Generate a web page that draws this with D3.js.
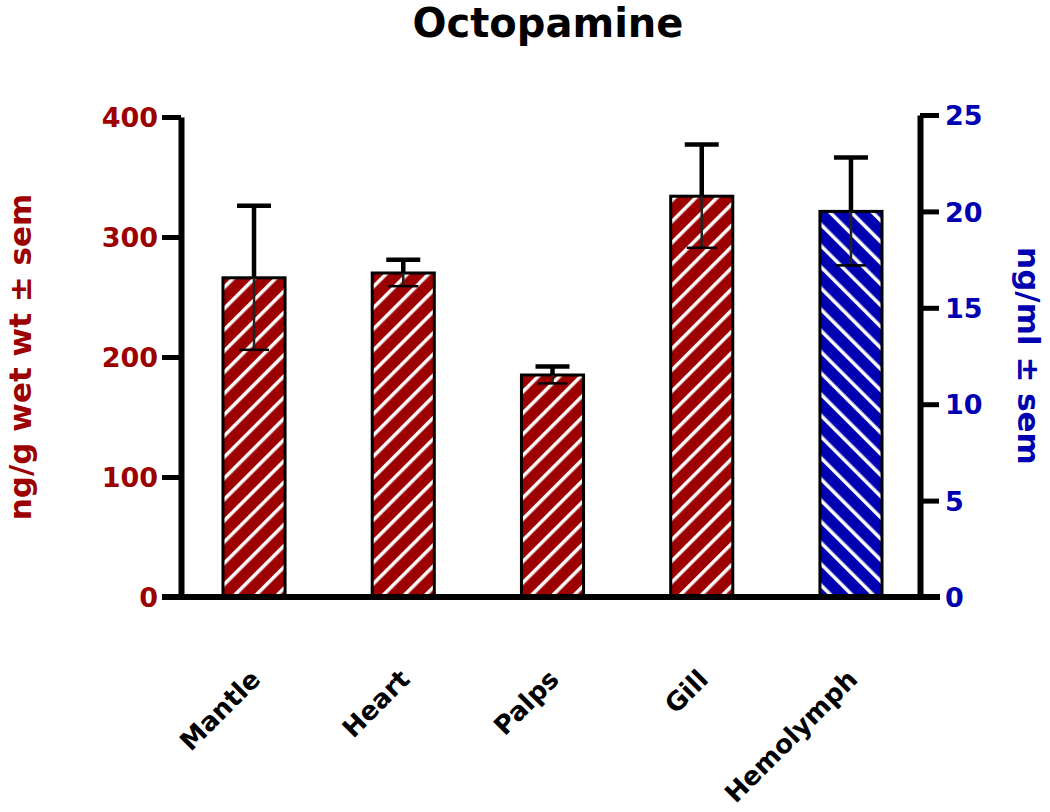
<!DOCTYPE html>
<html>
<head>
<meta charset="utf-8">
<script src="https://cdn.jsdelivr.net/npm/d3@7"></script>
<style>
  html, body { margin: 0; padding: 0; background: #ffffff; }
  svg { display: block; }
  text { font-family: "DejaVu Sans", "Liberation Sans", Arial, sans-serif; font-weight: bold; }
</style>
</head>
<body>
<svg id="chart" width="1050" height="812"></svg>
<script>
// ---- data ----
const categories = ["Mantle", "Heart", "Palps", "Gill", "Hemolymph"];
const tissueValues = [266, 270, 185, 334, null];      // ng/g wet wt (left axis)
const tissueSem    = [60, 11, 7, 43, null];
const hemoValues   = [null, null, null, null, 20];    // ng/ml (right axis)
const hemoSem      = [null, null, null, null, 2.8];
const leftTicks  = [0, 100, 200, 300, 400];
const rightTicks = [0, 5, 10, 15, 20, 25];
const title = "Octopamine";
const leftTitle = "ng/g wet wt \u00b1 sem";
const rightTitle = "ng/ml \u00b1 sem";

const RED = "#9c0000", BLUE = "#0000b0";

const svg = d3.select("#chart");

// patterns
const defs = svg.append("defs");
function stripe(id, color, angle) {
  const p = defs.append("pattern")
    .attr("id", id).attr("patternUnits", "userSpaceOnUse")
    .attr("width", 15).attr("height", 15)
    .attr("patternTransform", `rotate(${angle})`);
  p.append("rect").attr("width", 15).attr("height", 15).attr("fill", color);
  p.append("rect").attr("x", 0).attr("y", 0).attr("width", 3.5).attr("height", 15).attr("fill", "#ffffff");
}
stripe("redStripe", RED, 45);
stripe("blueStripe", BLUE, -45);

// scales
const x = d3.scaleBand().domain(categories).range([180, 925]).paddingInner(0.584).paddingOuter(0.288);
const yL = d3.scaleLinear().domain([0, 400]).range([597, 117]);
const yR = d3.scaleLinear().domain([0, 25]).range([597, 115]);

// title
svg.append("text").attr("x", 548).attr("y", 37).attr("text-anchor", "middle")
  .attr("font-size", 40).attr("fill", "#000").text(title);

// bars
const rows = categories.map((c, i) => {
  const right = tissueValues[i] == null;
  return { c, right, v: right ? hemoValues[i] : tissueValues[i], s: right ? hemoSem[i] : tissueSem[i] };
});
const yOf = d => d.right ? yR : yL;

const bars = svg.append("g");
bars.selectAll("rect").data(rows).join("rect")
  .attr("x", d => x(d.c))
  .attr("y", d => yOf(d)(d.v))
  .attr("width", x.bandwidth())
  .attr("height", d => yOf(d)(0) - yOf(d)(d.v))
  .attr("fill", d => d.right ? "url(#blueStripe)" : "url(#redStripe)")
  .attr("stroke", "#000").attr("stroke-width", 3);

// error bars
const eb = svg.append("g").attr("stroke", "#000");
rows.forEach(d => {
  const cx = x(d.c) + x.bandwidth() / 2;
  const y = yOf(d);
  eb.append("line").attr("x1", cx).attr("x2", cx).attr("y1", y(d.v)).attr("y2", y(d.v + d.s)).attr("stroke-width", 4.5);
  eb.append("line").attr("x1", cx - 17).attr("x2", cx + 17).attr("y1", y(d.v + d.s)).attr("y2", y(d.v + d.s)).attr("stroke-width", 4.5);
  eb.append("line").attr("x1", cx).attr("x2", cx).attr("y1", y(d.v)).attr("y2", y(d.v - d.s)).attr("stroke-width", 2.5).attr("stroke", "#222");
  eb.append("line").attr("x1", cx - 15).attr("x2", cx + 15).attr("y1", y(d.v - d.s)).attr("y2", y(d.v - d.s)).attr("stroke-width", 2.5);
});

// left axis
const gL = svg.append("g").attr("transform", "translate(181,0)")
  .call(d3.axisLeft(yL).tickValues(leftTicks).tickSize(19).tickSizeOuter(0).tickPadding(4));
gL.select(".domain").attr("stroke", "#000").attr("stroke-width", 6);
gL.selectAll(".tick line").attr("stroke", "#000").attr("stroke-width", 5);
gL.selectAll(".tick text").attr("fill", RED).attr("font-size", 27).attr("font-family", null).attr("dy", "0.36em");

// right axis
const gR = svg.append("g").attr("transform", "translate(920,0)")
  .call(d3.axisRight(yR).tickValues(rightTicks).tickSize(19).tickSizeOuter(0).tickPadding(6));
gR.select(".domain").attr("stroke", "#000").attr("stroke-width", 6);
gR.selectAll(".tick line").attr("stroke", "#000").attr("stroke-width", 5);
gR.selectAll(".tick text").attr("fill", BLUE).attr("font-size", 27).attr("font-family", null).attr("dy", "0.36em");

// x axis
const gX = svg.append("g").attr("transform", `translate(0,${yL(0)})`)
  .call(d3.axisBottom(x).tickSize(0));
gX.select(".domain").remove();
gX.append("line").attr("x1", 162).attr("x2", 940).attr("y1", 0).attr("y2", 0)
  .attr("stroke", "#000").attr("stroke-width", 6);
gX.selectAll(".tick text")
  .attr("fill", "#000").attr("font-size", 26).attr("font-family", null)
  .attr("text-anchor", "end").attr("x", 0).attr("y", 0).attr("dy", 0)
  .attr("transform", "translate(8,84) rotate(-45)");

// axis titles
svg.append("text").attr("transform", `translate(31,${(yL(0) + yL(400)) / 2}) rotate(-90)`)
  .attr("text-anchor", "middle").attr("font-size", 31).attr("fill", RED).text(leftTitle);
svg.append("text").attr("transform", `translate(1018,${(yR(0) + yR(25)) / 2}) rotate(90)`)
  .attr("text-anchor", "middle").attr("font-size", 31).attr("fill", BLUE).text(rightTitle);
</script>
</body>
</html>
